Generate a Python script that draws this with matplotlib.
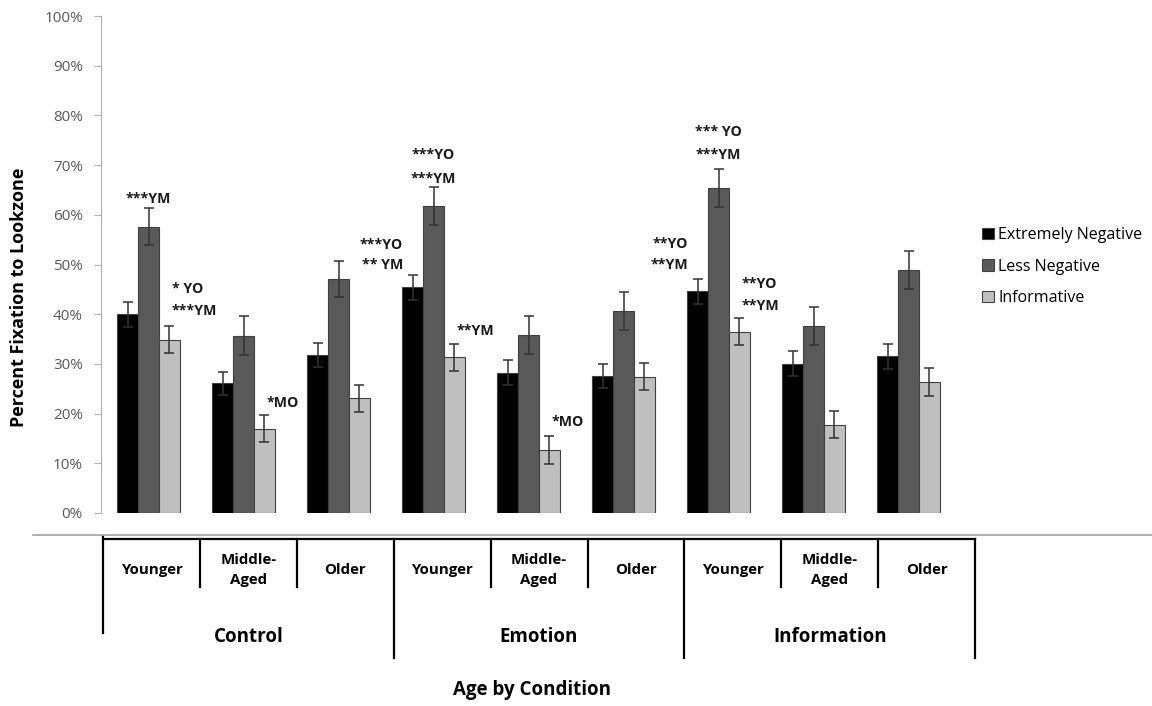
import numpy as np
import matplotlib
matplotlib.use('Agg')
import matplotlib.pyplot as plt
from matplotlib.lines import Line2D

plt.rcParams['font.family'] = ['Open Sans', 'DejaVu Sans']

# data (percent)
ages = ['Younger', 'Middle-\nAged', 'Older'] * 3
conditions = ['Control', 'Emotion', 'Information']
series = ['Extremely Negative', 'Less Negative', 'Informative']
extremely_neg = [40.0, 26.1, 31.8, 45.4, 28.2, 27.6, 44.6, 30.0, 31.5]
less_neg = [57.6, 35.7, 47.1, 61.7, 35.8, 40.6, 65.4, 37.6, 48.9]
informative = [34.9, 17.0, 23.1, 31.3, 12.6, 27.4, 36.5, 17.8, 26.3]
err_extreme = [2.5, 2.3, 2.5, 2.5, 2.5, 2.4, 2.5, 2.5, 2.5]
err_less = [3.7, 3.9, 3.7, 3.8, 3.9, 3.8, 3.9, 3.8, 3.9]
err_info = [2.7, 2.7, 2.7, 2.7, 2.8, 2.7, 2.7, 2.7, 2.8]

# significance notes: (group, series index, text, y%, horizontal alignment)
notes = [
    (0, 1, '***YM', 63.1, 'center'),
    (0, 2, '* YO', 45.0, 'left'),
    (0, 2, '***YM', 40.7, 'left'),
    (1, 2, '*MO', 22.2, 'left'),
    (3, 0, '***YO', 54.0, 'right'),
    (3, 0, '** YM', 49.8, 'right'),
    (3, 1, '***YO', 72.0, 'center'),
    (3, 1, '***YM', 67.3, 'center'),
    (3, 2, '**YM', 36.7, 'left'),
    (4, 2, '*MO', 18.3, 'left'),
    (6, 0, '**YO', 54.2, 'right'),
    (6, 0, '**YM', 49.8, 'right'),
    (6, 1, '*** YO', 76.6, 'center'),
    (6, 1, '***YM', 72.0, 'center'),
    (6, 2, '**YO', 46.1, 'left'),
    (6, 2, '**YM', 41.7, 'left'),
]

W, H = 1152, 706
fig = plt.figure(figsize=(W / 100, H / 100), dpi=100)
ax = fig.add_axes([101 / W, (H - 513) / H, 855 / W, 497 / H])

x = np.arange(len(ages))
bw = 0.221
colors = ['#000000', '#595959', '#bfbfbf']
vals = [extremely_neg, less_neg, informative]
errs = [err_extreme, err_less, err_info]
for k in range(3):
    ax.bar(x + (k - 1) * bw, vals[k], bw, color=colors[k], edgecolor='#404040',
           linewidth=0.8, label=series[k], zorder=2)
    ax.errorbar(x + (k - 1) * bw, vals[k], yerr=errs[k], fmt='none',
                ecolor='#333333', elinewidth=1.1, capsize=3.5, capthick=1.1, zorder=3)

for g, s, txt, yv, ha in notes:
    xc = g + (s - 1) * bw
    if ha == 'left':
        xc += bw * 0.1
    elif ha == 'right':
        xc -= bw * 0.45
    ax.text(xc, yv, txt, ha=ha, va='center', fontsize=10.2, fontweight='bold',
            color='#1a1a1a')

ax.set_xlim(-0.5, 8.5)
ax.set_ylim(0, 100)
ax.set_yticks(np.arange(0, 101, 10))
ax.set_yticklabels([f'{v}%' for v in range(0, 101, 10)], fontsize=11, color='#595959')
ax.set_xticks([])
for sp in ['top', 'right', 'bottom']:
    ax.spines[sp].set_visible(False)
ax.spines['left'].set_color('#b0b0b0')
ax.tick_params(axis='y', length=5, color='#b0b0b0', pad=8)
ax.set_ylabel('Percent Fixation to Lookzone', fontsize=13, fontweight='bold')
ax.yaxis.set_label_coords(-0.085, 0.433)

fig.legend(loc='upper left', bbox_to_anchor=(968 / W, 1 - 213 / H), frameon=False,
           fontsize=11.5, handlelength=0.7, handleheight=0.7, handletextpad=0.3,
           labelspacing=0.95)


def px(xp, yp):
    return xp / W, 1 - yp / H


def line(x0, y0, x1, y1, color='black', lw=1.6):
    (a, b), (c, d) = px(x0, y0), px(x1, y1)
    fig.add_artist(Line2D([a, c], [b, d], color=color, lw=lw))


# gray rule under the plot
line(33, 535, W, 535, color='#a0a0a0', lw=1.2)

# category table under the chart
left, cell = 103, 96.9
edges = [left + i * cell for i in range(len(ages) + 1)]
line(edges[0], 539, edges[-1], 539)
for i, e in enumerate(edges):
    if i == 0:
        line(e, 537, e, 633)
    elif i % 3 == 0:
        line(e, 539, e, 658)
    else:
        line(e, 539, e, 587)
for i, lab in enumerate(ages):
    cx = (edges[i] + edges[i + 1]) / 2
    fig.text(*px(cx, 570), lab, ha='center', va='center', fontsize=10.8,
             fontweight='bold', linespacing=1.5)
for j, cond in enumerate(conditions):
    cx = (edges[3 * j] + edges[3 * j + 3]) / 2
    fig.text(*px(cx, 637), cond, ha='center', va='center', fontsize=13.5,
             fontweight='bold')
fig.text(*px(532, 690), 'Age by Condition', ha='center', va='center',
         fontsize=13.5, fontweight='bold')

fig.savefig('out.png', dpi=100)
